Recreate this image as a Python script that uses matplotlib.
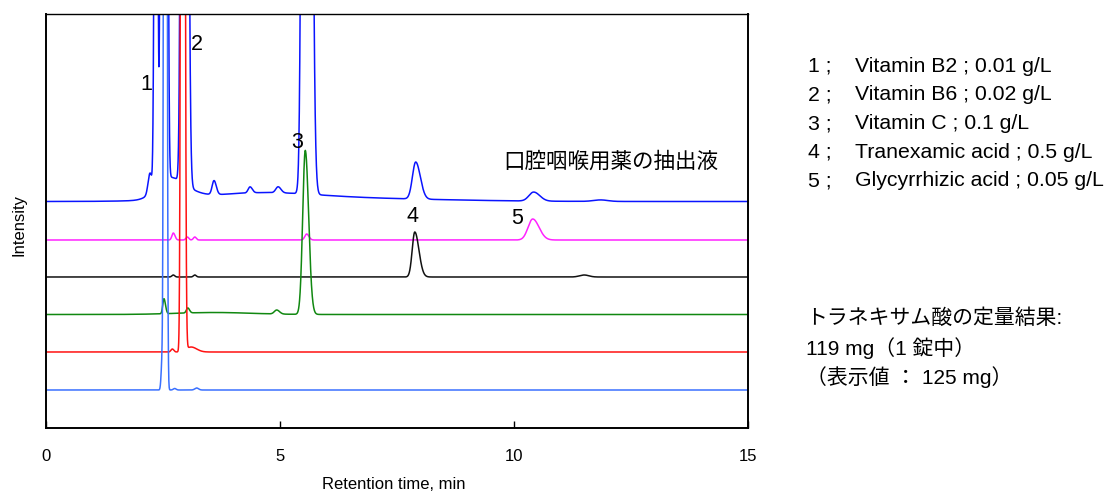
import numpy as np
import matplotlib
matplotlib.use("Agg")
import matplotlib.pyplot as plt

plt.rcParams['font.family'] = ['Liberation Sans', 'Noto Sans CJK JP', 'DejaVu Sans']

# ---------------- data ----------------
# peaks per trace: (retention time [min], height [a.u.], width sigma [min], tailing factor)
sample_peaks = [(2.22, 20, 0.04, 1.0), (2.35, 900, 0.028, 1.0), (2.46, 700, 0.02, 1.0),
                (2.56, 1500, 0.025, 1.2), (2.60, 22, 0.25, 1.5), (2.95, 3000, 0.04, 1.3),
                (3.59, 14, 0.04, 1.2), (4.36, 6, 0.04, 1.2), (4.96, 6, 0.05, 1.2),
                (4.50, 7, 1.2, 1.0), (6.50, 3, 2.0, 1.0), (5.56, 3000, 0.055, 1.3),
                (7.90, 37, 0.07, 1.4), (10.42, 9, 0.10, 1.3), (11.85, 1.5, 0.15, 1.0)]
glycyrrhizic_peaks = [(2.72, 7, 0.03, 1.2), (3.02, 3, 0.03, 1.0), (3.18, 3, 0.03, 1.0),
                      (5.57, 6, 0.04, 1.2), (10.40, 21, 0.10, 1.35)]
tranexamic_peaks = [(2.72, 2, 0.03, 1.0), (3.18, 2, 0.03, 1.0),
                    (7.88, 45, 0.055, 1.6), (11.50, 2, 0.10, 1.0)]
vitc_peaks = [(2.52, 15, 0.025, 1.3), (3.03, 5, 0.03, 1.2), (3.60, 2, 0.8, 1.0),
              (4.93, 4, 0.05, 1.2), (5.54, 164, 0.055, 1.3)]
vitb6_peaks = [(2.70, 3, 0.03, 1.0), (2.92, 3000, 0.025, 1.2), (3.10, 5, 0.10, 1.2)]
vitb2_peaks = [(2.48, 27, 0.02, 1.0), (2.55, 3000, 0.022, 1.0), (2.75, 1.5, 0.03, 1.0),
               (3.22, 2, 0.04, 1.0)]

trace_names = ["sample", "glycyrrhizic", "tranexamic", "vitc", "vitb6", "vitb2"]
trace_peaks = [sample_peaks, glycyrrhizic_peaks, tranexamic_peaks, vitc_peaks, vitb6_peaks, vitb2_peaks]
trace_offsets = [226.5, 188, 151, 113.5, 76, 38]
trace_colors = ["#0a14ff", "#ff22ff", "#111111", "#118811", "#ff1111", "#3a70ff"]

peak_labels = ["1", "2", "3", "4", "5"]
peak_label_x = [2.14, 3.23, 5.36, 7.84, 10.06]
peak_label_y = [344, 384, 286, 212, 210]

x_ticks = [0, 5, 10, 15]
legend_nums = ["1 ;", "2 ;", "3 ;", "4 ;", "5 ;"]
legend_texts = ["Vitamin B2 ; 0.01 g/L", "Vitamin B6 ; 0.02 g/L", "Vitamin C ; 0.1 g/L",
                "Tranexamic acid ; 0.5 g/L", "Glycyrrhizic acid ; 0.05 g/L"]
sample_label = "口腔咽喉用薬の抽出液"
result_lines = ["トラネキサム酸の定量結果:", "119 mg（1 錠中）", "（表示値 ： 125 mg）"]

# ---------------- build signals ----------------
t = np.linspace(0, 15, 6001)


def chromatogram(peaks, base):
    y = np.full_like(t, base, dtype=float)
    for rt, h, s, tail in peaks:
        sig = np.where(t < rt, s, s * tail)
        y += h * np.exp(-0.5 * ((t - rt) / sig) ** 2)
    return y


W, H = 1107, 493
fig = plt.figure(figsize=(W / 100, H / 100), dpi=100)
ax = fig.add_axes([46 / W, 1 - 428 / H, (748 - 46) / W, (428 - 14) / H])

for name, peaks, off, col in zip(trace_names, trace_peaks, trace_offsets, trace_colors):
    ax.plot(t, chromatogram(peaks, off), color=col, lw=1.1, solid_joinstyle='round')

ax.set_xlim(0, 15)
ax.set_ylim(0, 414)
ax.set_xticks(x_ticks)
ax.set_xticklabels([str(v) for v in x_ticks])
ax.set_yticks([])
ax.tick_params(axis='x', direction='in', length=5, width=1, pad=15, labelsize=12)
for sp in ax.spines.values():
    sp.set_linewidth(1.4)
ax.spines['top'].set_linewidth(1.0)
ax.spines['right'].set_linewidth(1.4)

ax.set_xlabel("Retention time, min", fontsize=12)
ax.xaxis.set_label_coords(0.496, -0.118)
ax.set_ylabel("Intensity", fontsize=12)
ax.yaxis.set_label_coords(-0.028, 0.49)

for lab, lx, ly in zip(peak_labels, peak_label_x, peak_label_y):
    ax.text(lx, ly, lab, fontsize=15.5, ha='center', va='center')

ax.text(12.07, 266, sample_label, fontsize=15.5, ha='center', va='center')

legend_y = [66, 95, 124, 152, 181]
for num, txt, py in zip(legend_nums, legend_texts, legend_y):
    fig.text(808 / W, 1 - py / H, num, fontsize=15.3, ha='left', va='center')
    fig.text(855 / W, 1 - py / H, txt, fontsize=15.3, ha='left', va='center')

result_y = [318, 348, 377]
for txt, py in zip(result_lines, result_y):
    fig.text(806 / W, 1 - py / H, txt, fontsize=15, ha='left', va='center')

fig.savefig("out.png", dpi=100)
